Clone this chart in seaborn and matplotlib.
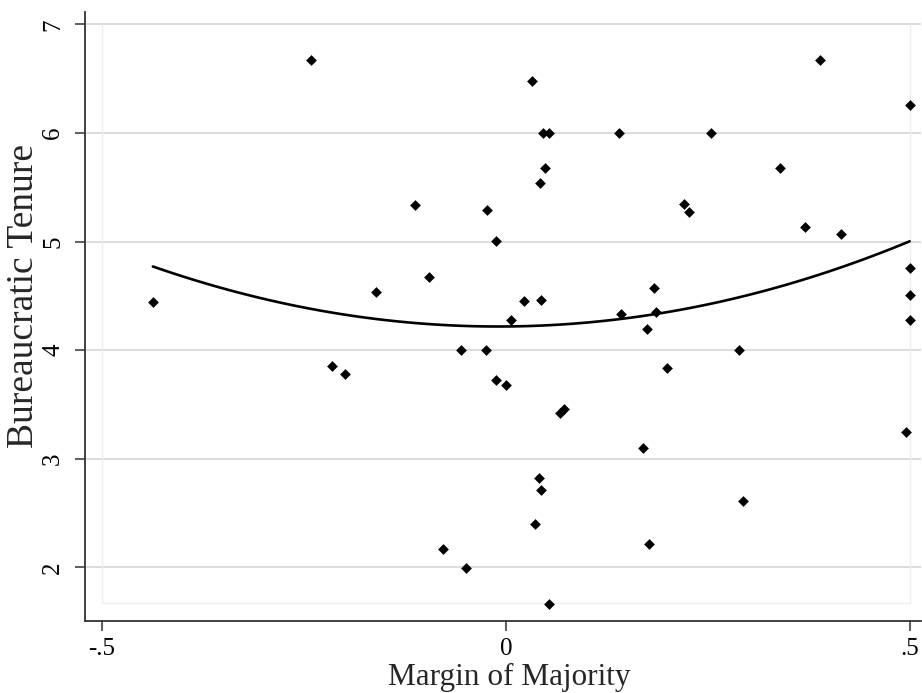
import matplotlib
matplotlib.use("Agg")
import matplotlib.pyplot as plt
import seaborn as sns
import numpy as np
import pandas as pd

margin = [-0.437, -0.241, -0.161, -0.113, -0.095, -0.215, -0.199, -0.078, -0.055, -0.049,
          -0.025, -0.023, -0.012, -0.012, 0.000, 0.007, 0.022, 0.033, 0.036, 0.041,
          0.042, 0.043, 0.044, 0.046, 0.049, 0.054, 0.054, 0.067, 0.072, 0.140,
          0.143, 0.170, 0.175, 0.177, 0.184, 0.186, 0.200, 0.220, 0.227, 0.254,
          0.289, 0.294, 0.340, 0.371, 0.389, 0.415, 0.495, 0.500, 0.500, 0.500, 0.500]
tenure = [4.447, 6.670, 4.534, 5.338, 4.672, 3.855, 3.779, 2.173, 4.000, 1.993,
          4.000, 5.292, 5.006, 3.727, 3.683, 4.276, 4.457, 6.480, 2.398, 2.821,
          5.543, 2.714, 4.466, 6.000, 5.676, 6.000, 1.661, 3.425, 3.459, 6.000,
          4.334, 3.098, 4.193, 2.216, 4.571, 4.355, 3.834, 5.344, 5.274, 6.000,
          4.000, 2.615, 5.676, 5.135, 6.670, 5.068, 3.248, 6.259, 4.755, 4.506, 4.276]
x_ticks = [-0.5, 0, 0.5]
x_tick_labels = ["-.5", "0", ".5"]
y_ticks = [2, 3, 4, 5, 6, 7]
y_tick_labels = ["2", "3", "4", "5", "6", "7"]

df = pd.DataFrame({"Margin of Majority": margin, "Bureaucratic Tenure": tenure})

sns.set_style("white")
plt.rcParams["font.family"] = ["Liberation Serif", "DejaVu Serif"]

fig = plt.figure(figsize=(9.22, 6.93), dpi=100)
W, H = 922, 693
ax = fig.add_axes([85 / W, 1 - 621 / H, (921 - 85) / W, (621 - 12) / H])

xlo, xhi = -0.521, 0.514
ylo, yhi = 1.507, 7.113
ax.set_xlim(xlo, xhi)
ax.set_ylim(ylo, yhi)

# grid lines at y ticks
for yt in y_ticks:
    ax.axhline(yt, color="#dcdcdc", lw=1.4, zorder=0)
# faint plot-region border
ax.plot([-0.5, -0.5], [1.673, 7], color="#eeeeee", lw=1.0, zorder=0)
ax.plot([0.5, 0.5], [1.673, 7], color="#eeeeee", lw=1.0, zorder=0)
ax.plot([-0.5, 0.5], [1.673, 1.673], color="#eeeeee", lw=1.0, zorder=0)

sns.regplot(data=df, x="Margin of Majority", y="Bureaucratic Tenure", order=2,
            scatter=False, ci=None, truncate=True, ax=ax,
            line_kws=dict(color="black", lw=1.9, zorder=3))
sns.scatterplot(data=df, x="Margin of Majority", y="Bureaucratic Tenure", ax=ax,
                marker="D", color="black", s=30, linewidth=0, zorder=4)

ax.set_xticks(x_ticks)
ax.set_xticklabels(x_tick_labels)
ax.set_yticks(y_ticks)
ax.set_yticklabels(y_tick_labels, rotation=90, va="center")

ax.tick_params(axis="both", direction="out", length=7, width=1.1, color="#333333",
               labelsize=18, labelcolor="black")
ax.tick_params(axis="x", pad=5, bottom=True)
ax.tick_params(axis="y", pad=8, left=True)

for s in ["top", "right"]:
    ax.spines[s].set_visible(False)
for s in ["left", "bottom"]:
    ax.spines[s].set_color("#333333")
    ax.spines[s].set_linewidth(1.3)

ax.set_xlabel("Margin of Majority", fontsize=22.5)
ax.xaxis.set_label_coords(0.507, -0.069)
ax.set_ylabel("Bureaucratic Tenure", fontsize=27)
ax.yaxis.set_label_coords(-0.053, 0.533)

fig.savefig("out.png", dpi=100)
